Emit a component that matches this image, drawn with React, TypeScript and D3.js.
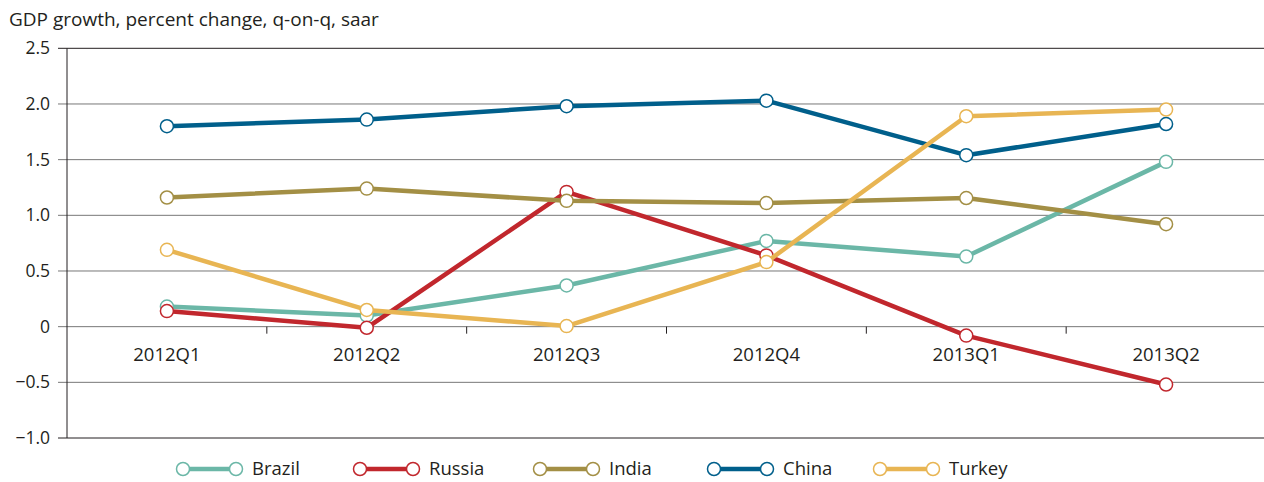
import React from "react";
import * as d3 from "d3";

const categories = ["2012Q1", "2012Q2", "2012Q3", "2012Q4", "2013Q1", "2013Q2"];
const brazil = [0.18, 0.1, 0.37, 0.77, 0.63, 1.48];
const russia = [0.14, -0.01, 1.21, 0.64, -0.08, -0.52];
const india = [1.16, 1.24, 1.13, 1.11, 1.155, 0.92];
const china = [1.8, 1.86, 1.98, 2.03, 1.54, 1.82];
const turkey = [0.69, 0.15, 0.005, 0.58, 1.89, 1.95];
const yTicks = [2.5, 2.0, 1.5, 1.0, 0.5, 0, -0.5, -1.0];
const seriesNames = ["Brazil", "Russia", "India", "China", "Turkey"];
const seriesValues = [brazil, russia, india, china, turkey];
const seriesColors = ["#6bb7a7", "#c1272d", "#a38f45", "#005f8b", "#e8b553"];
const legendX = [183, 360, 540, 714, 880];

const title = "GDP growth, percent change, q-on-q, saar";
const font = "'Open Sans', 'Noto Sans', sans-serif";

export default function App() {
  const W = 1264, H = 482;
  const x0 = 67, x1 = 1266;
  const x = d3.scaleBand<string>().domain(categories).range([x0, x1]);
  const y = d3.scaleLinear().domain([-1, 2.5]).range([438, 48.3]);
  const line = d3
    .line<number>()
    .x((_, i) => (x(categories[i]) as number) + x.bandwidth() / 2)
    .y((d) => y(d));
  const fmt = (v: number) => (v === 0 ? "0" : d3.format(".1f")(v));

  return (
    <svg width={W} height={H} style={{ position: "absolute", left: 0, top: 0 }} fontFamily={font}>
      <text x={9} y={26} fontSize={19} fill="#231f20">{title}</text>
      {yTicks.map((t) => (
        <g key={t}>
          <line x1={58} x2={W} y1={y(t)} y2={y(t)} stroke={t === 2.5 || t === -1 ? "#231f20" : "#777"} strokeWidth={1} />
          <text x={50} y={y(t)} dy="0.35em" textAnchor="end" fontSize={17.5} fill="#231f20">{fmt(t)}</text>
        </g>
      ))}
      <line x1={x0} x2={x0} y1={y(2.5)} y2={y(-1)} stroke="#231f20" strokeWidth={1} />
      {categories.slice(1).map((c) => (
        <line key={c} x1={x(c) as number} x2={x(c) as number} y1={y(0)} y2={y(0) + 7} stroke="#231f20" strokeWidth={1} />
      ))}
      {categories.map((c) => (
        <text key={c} x={(x(c) as number) + x.bandwidth() / 2} y={(y(0) + y(-0.5)) / 2} dy="0.35em" textAnchor="middle" fontSize={18.5} fill="#231f20">{c}</text>
      ))}
      {seriesValues.map((vals, si) => (
        <g key={seriesNames[si]}>
          <path d={line(vals) as string} fill="none" stroke={seriesColors[si]} strokeWidth={4.5} strokeLinejoin="round" />
          {vals.map((v, i) => (
            <circle key={i} cx={(x(categories[i]) as number) + x.bandwidth() / 2} cy={y(v)} r={6.5} fill="#fff" stroke={seriesColors[si]} strokeWidth={1.5} />
          ))}
        </g>
      ))}
      {seriesNames.map((n, si) => (
        <g key={n}>
          <line x1={legendX[si]} x2={legendX[si] + 53} y1={469} y2={469} stroke={seriesColors[si]} strokeWidth={4.5} />
          <circle cx={legendX[si]} cy={469} r={6.5} fill="#fff" stroke={seriesColors[si]} strokeWidth={1.5} />
          <circle cx={legendX[si] + 53} cy={469} r={6.5} fill="#fff" stroke={seriesColors[si]} strokeWidth={1.5} />
          <text x={legendX[si] + 69} y={469} dy="0.35em" fontSize={18.5} fill="#231f20">{n}</text>
        </g>
      ))}
    </svg>
  );
}
